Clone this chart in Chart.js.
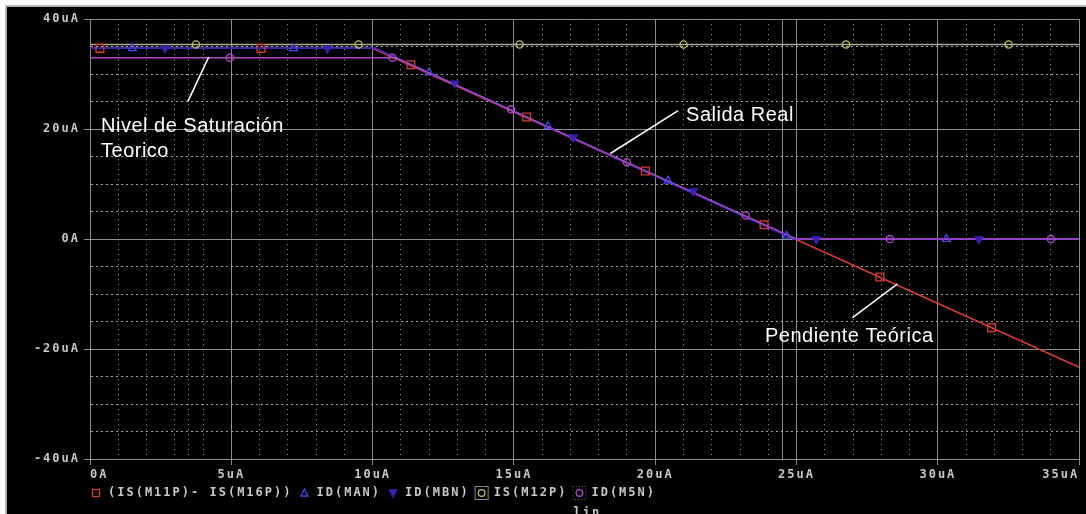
<!DOCTYPE html>
<html>
<head>
<meta charset="utf-8">
<script src="https://cdn.jsdelivr.net/npm/chart.js@4.4.1/dist/chart.umd.min.js"></script>
<style>
  html, body { margin: 0; padding: 0; background: #fff; width: 1086px; height: 514px; overflow: hidden; }
  #panel { position: absolute; left: 5px; top: 5px; width: 1081px; height: 509px; box-sizing: border-box;
           border-top: 2px solid #b4b4b4; border-left: 2px solid #b4b4b4; background: #000; }
  #chart { position: absolute; left: 8px; top: 8px; }
</style>
</head>
<body>
<div id="panel"></div>
<canvas id="chart" width="1078" height="506"></canvas>
<script>
// all values in uA
const xTicks = [0, 5, 10, 15, 20, 25, 30, 35];
const xTickLabels = ['0A', '5uA', '10uA', '15uA', '20uA', '25uA', '30uA', '35uA'];
const yTicks = [-40, -20, 0, 20, 40];
const yTickLabels = ['-40uA', '-20uA', '0A', '20uA', '40uA'];
const cursorX = [3.5, 24.5];   // extra vertical lines seen in the plot

const seriesNames = ['(IS(M11P)- IS(M16P))', 'ID(MAN)', 'ID(MBN)', 'IS(M12P)', 'ID(M5N)'];

// trace vertices
const diffX = [0, 10, 35];
const diffY = [34.7, 34.7, -23.3];
const manX = [0, 10.1, 24.9, 35];
const manY = [34.7, 34.7, 0, 0];
const mbnX = [0, 10.1, 24.9, 35];
const mbnY = [34.7, 34.7, 0, 0];
const m12pX = [0, 35];
const m12pY = [35.4, 35.4];
const m5nX = [0, 10.8, 25, 35];
const m5nY = [33, 33, 0, 0];

// marker positions along each trace
const diffMarkX = [0.35, 6.05, 11.35, 15.45, 19.65, 23.85, 27.95, 31.9];
const diffMarkY = [34.7, 34.7, 31.7, 22.2, 12.4, 2.6, -6.9, -16.1];
const manMarkX = [1.5, 7.2, 12.0, 16.2, 20.45, 24.65, 30.3];
const manMarkY = [34.7, 34.7, 30.3, 20.5, 10.6, 0.6, 0];
const mbnMarkX = [2.65, 8.4, 12.9, 17.1, 21.35, 25.7, 31.45];
const mbnMarkY = [34.7, 34.7, 28.3, 18.5, 8.7, 0, 0];
const m12pMarkX = [3.75, 9.5, 15.2, 21.0, 26.75, 32.5];
const m12pMarkY = [35.4, 35.4, 35.4, 35.4, 35.4, 35.4];
const m5nMarkX = [4.95, 10.7, 14.9, 19.0, 23.2, 28.3, 34.0];
const m5nMarkY = [33, 33, 23.6, 14.0, 4.3, 0, 0];

const notes = [
  { text: ['Nivel de Saturación', 'Teorico'], x: 0.39, y: 19.55, from: [3.46, 25.0], to: [4.2, 33.1] },
  { text: ['Salida Real'], x: 21.09, y: 21.54, from: [18.41, 15.57], to: [20.81, 23.35] },
  { text: ['Pendiente Teórica'], x: 23.88, y: -18.64, from: [26.98, -14.3], to: [28.57, -8.14] }
];

const RED = '#d83a3a';
const BLUE = '#4646e6';
const DBLUE = '#3a22b4';
const YEL = '#c0c05a';
const YLINE = '#a8a898';
const MAG = '#b04ac8';
const GRID = '#8e8e8e';
const DOTS = '#a0a0a0';
const TEXT = '#c8c8c8';
const TICKFONT = { family: 'DejaVu Sans Mono', size: 12, weight: 'bold' };

function pts(xs, ys) {
  return xs.map((x, i) => ({ x, y: ys[i] }));
}

function trace(xs, ys, color, order) {
  return { data: pts(xs, ys), showLine: true, borderColor: color, borderWidth: 1.5,
           pointRadius: 0, pointHoverRadius: 0, order };
}

function marks(xs, ys, color, style, radius, extra) {
  return Object.assign({ data: pts(xs, ys), showLine: false, pointStyle: style, pointRadius: radius,
           pointBorderColor: color, pointBackgroundColor: 'rgba(0,0,0,0)', pointBorderWidth: 1.3,
           pointHoverRadius: radius, order: 0 }, extra || {});
}

const isMajorX = v => xTicks.includes(v) || v === cursorX[1];

const decorate = {
  id: 'decorate',
  beforeDraw(chart) {
    chart.ctx.letterSpacing = '2px';
  },
  afterDatasetsDraw(chart) {
    const { ctx, scales: { x, y } } = chart;
    ctx.save();
    ctx.letterSpacing = '0.5px';
    ctx.strokeStyle = '#ffffff';
    ctx.fillStyle = '#ffffff';
    ctx.lineWidth = 1.5;
    ctx.font = '20px "Liberation Sans"';
    ctx.textAlign = 'left';
    ctx.textBaseline = 'alphabetic';
    for (const n of notes) {
      ctx.beginPath();
      ctx.moveTo(x.getPixelForValue(n.from[0]), y.getPixelForValue(n.from[1]));
      ctx.lineTo(x.getPixelForValue(n.to[0]), y.getPixelForValue(n.to[1]));
      ctx.stroke();
      n.text.forEach((t, i) => ctx.fillText(t, x.getPixelForValue(n.x), y.getPixelForValue(n.y) + i * 25));
    }
    ctx.restore();
  },
  afterDraw(chart) {
    const { ctx, chartArea } = chart;
    ctx.save();
    ctx.letterSpacing = '2px';
    ctx.font = 'bold 12px "DejaVu Sans Mono"';
    ctx.textBaseline = 'middle';
    ctx.textAlign = 'left';
    const my = chartArea.bottom + 34;
    let mx = chartArea.left + 6;
    let lastBox = mx;
    seriesNames.forEach((name, i) => {
      ctx.lineWidth = 1.3;
      if (i === 0) {
        ctx.strokeStyle = RED;
        ctx.strokeRect(mx - 3.5, my - 3.5, 7, 7);
      } else if (i === 1 || i === 2) {
        ctx.strokeStyle = i === 1 ? BLUE : DBLUE;
        ctx.fillStyle = DBLUE;
        const s = i === 1 ? 1 : -1;
        ctx.beginPath();
        ctx.moveTo(mx, my - 4 * s);
        ctx.lineTo(mx + 3.5, my + 3 * s);
        ctx.lineTo(mx - 3.5, my + 3 * s);
        ctx.closePath();
        if (i === 2) ctx.fill();
        ctx.stroke();
      } else {
        ctx.strokeStyle = i === 3 ? '#8a8a8a' : '#6a6a6a';
        ctx.lineWidth = 1;
        if (i === 4) ctx.setLineDash([1, 2]);
        ctx.strokeRect(mx - 6.5, my - 6.5, 13, 13);
        ctx.setLineDash([]);
        ctx.lineWidth = 1.3;
        ctx.strokeStyle = i === 3 ? YEL : MAG;
        ctx.beginPath();
        ctx.arc(mx, my, 3.3, 0, Math.PI * 2);
        ctx.stroke();
        lastBox = mx - 6;
      }
      const tx = mx + 12;
      ctx.fillStyle = TEXT;
      ctx.fillText(name, tx, my);
      mx = tx + ctx.measureText(name).width + 12;
    });
    ctx.fillText('lin', lastBox, my + 20);
    ctx.restore();
  }
};

new Chart(document.getElementById('chart'), {
  type: 'scatter',
  data: {
    datasets: [
      marks(diffMarkX, diffMarkY, RED, 'rect', 5.5),
      marks(manMarkX, manMarkY, BLUE, 'triangle', 4.5),
      marks(mbnMarkX, mbnMarkY, DBLUE, 'triangle', 4.5, { pointRotation: 180, pointBackgroundColor: DBLUE }),
      marks(m12pMarkX, m12pMarkY, YEL, 'circle', 3.6),
      marks(m5nMarkX, m5nMarkY, MAG, 'circle', 3.6),
      trace(m5nX, m5nY, MAG, 1),
      trace(mbnX, mbnY, DBLUE, 2),
      trace(manX, manY, BLUE, 3),
      trace(diffX, diffY, RED, 4),
      trace(m12pX, m12pY, YLINE, 5)
    ]
  },
  options: {
    responsive: false,
    animation: false,
    layout: { padding: { top: 9, right: 4, left: 0, bottom: 0 } },
    plugins: { legend: { display: false }, tooltip: { enabled: false } },
    scales: {
      x: {
        type: 'linear',
        min: 0,
        max: 35,
        afterBuildTicks: s => {
          s.ticks = s.ticks.concat(cursorX.map(v => ({ value: v }))).sort((a, b) => a.value - b.value);
        },
        afterFit: s => { s.height = 55; },
        ticks: {
          stepSize: 1,
          autoSkip: false,
          maxRotation: 0,
          align: 'inner',
          padding: 3,
          color: TEXT,
          font: TICKFONT,
          callback: v => {
            const i = xTicks.indexOf(v);
            return i >= 0 ? xTickLabels[i] : '';
          }
        },
        grid: {
          color: c => (c.tick && isMajorX(c.tick.value)) ? GRID : DOTS,
          lineWidth: 1,
          tickLength: 6,
          tickColor: c => (c.tick && xTicks.includes(c.tick.value)) ? GRID : 'rgba(0,0,0,0)'
        },
        border: {
          color: GRID,
          dash: c => (!c.tick || isMajorX(c.tick.value)) ? [] : [1, 4]
        }
      },
      y: {
        type: 'linear',
        min: -40,
        max: 40,
        afterFit: s => { s.width = 82; },
        ticks: {
          stepSize: 5,
          autoSkip: false,
          padding: 4,
          color: TEXT,
          font: TICKFONT,
          callback: v => {
            const i = yTicks.indexOf(v);
            return i >= 0 ? yTickLabels[i] : '';
          }
        },
        grid: {
          color: c => (c.tick && yTicks.includes(c.tick.value)) ? GRID : DOTS,
          lineWidth: 1,
          tickLength: 6,
          tickColor: c => (c.tick && yTicks.includes(c.tick.value)) ? GRID : 'rgba(0,0,0,0)'
        },
        border: {
          color: GRID,
          dash: c => (!c.tick || yTicks.includes(c.tick.value)) ? [] : [2, 3]
        }
      }
    }
  },
  plugins: [decorate]
});
</script>
</body>
</html>
